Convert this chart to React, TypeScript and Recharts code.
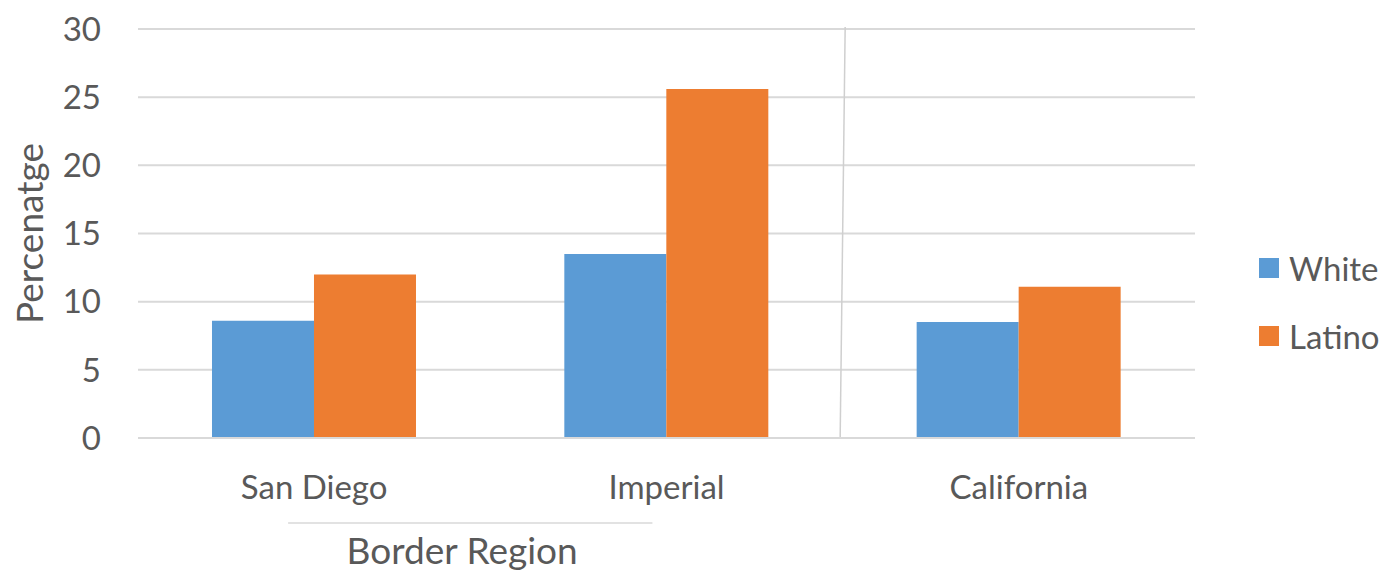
import React from "react";
import {
  Bar,
  BarChart,
  CartesianGrid,
  XAxis,
  YAxis,
  usePlotArea,
} from "recharts";

const categories = ["San Diego", "Imperial", "California"];
const whiteValues = [8.6, 13.5, 8.5];
const latinoValues = [12.0, 25.6, 11.1];
const yTicks = [0, 5, 10, 15, 20, 25, 30];

const data = categories.map((name, i) => ({
  name,
  White: whiteValues[i],
  Latino: latinoValues[i],
}));

const FONT = "Lato, 'Open Sans', sans-serif";
const TEXT = "#595959";
const GRID = "#D9D9D9";

const legendItems = [
  { label: "White", color: "#5B9BD5" },
  { label: "Latino", color: "#ED7D31" },
];

function GroupDecor() {
  const area = usePlotArea();
  if (!area) return null;
  const { x, y, width, height } = area;
  const band = width / categories.length;
  const sepX = x + band * 2;
  const bottom = y + height;
  return (
    <g>
      <line x1={sepX + 2.5} y1={y - 2} x2={sepX - 2.5} y2={bottom} stroke="#CFCFCF" strokeWidth={1.5} />
      <line x1={x + band * 0.426} y1={bottom + 85} x2={x + band * 1.46} y2={bottom + 85} stroke={GRID} strokeWidth={1.5} />
      <text
        x={x + band * 0.92}
        y={bottom + 117}
        textAnchor="middle"
        dominantBaseline="middle"
        fontSize={37}
        fill={TEXT}
        fontFamily={FONT}
      >
        Border Region
      </text>
    </g>
  );
}

export default function App() {
  return (
    <div style={{ position: "absolute", left: 0, top: 0, width: 1386, height: 573, background: "#fff" }}>
      <BarChart
        width={1386}
        height={573}
        data={data}
        margin={{ top: 29, right: 191, bottom: 0, left: 0 }}
        barCategoryGap="21%"
        barGap={0}
      >
        <CartesianGrid vertical={false} stroke={GRID} strokeWidth={2} />
        <XAxis
          dataKey="name"
          height={135}
          axisLine={{ stroke: GRID, strokeWidth: 2 }}
          tickLine={false}
          tickMargin={32}
          tick={{ fill: TEXT, fontSize: 33, fontFamily: FONT }}
        />
        <YAxis
          width={138}
          domain={[0, 30]}
          ticks={yTicks}
          axisLine={false}
          tickLine={false}
          tickMargin={31}
          tick={{ fill: TEXT, fontSize: 33, fontFamily: FONT }}
          label={{
            value: "Percenatge",
            angle: -90,
            position: "insideLeft",
            dx: 25,
            style: { fill: TEXT, fontSize: 37, fontFamily: FONT, textAnchor: "middle" },
          }}
        />
        <Bar dataKey="White" fill="#5B9BD5" isAnimationActive={false} />
        <Bar dataKey="Latino" fill="#ED7D31" isAnimationActive={false} />
        <GroupDecor />
      </BarChart>
      <div
        style={{
          position: "absolute",
          left: 1259,
          top: 234,
          fontFamily: FONT,
          color: TEXT,
          fontSize: 33,
        }}
      >
        {legendItems.map((it) => (
          <div key={it.label} style={{ display: "flex", alignItems: "center", height: 68 }}>
            <span style={{ width: 20, height: 20, background: it.color, marginRight: 10, display: "inline-block" }} />
            <span>{it.label}</span>
          </div>
        ))}
      </div>
    </div>
  );
}
